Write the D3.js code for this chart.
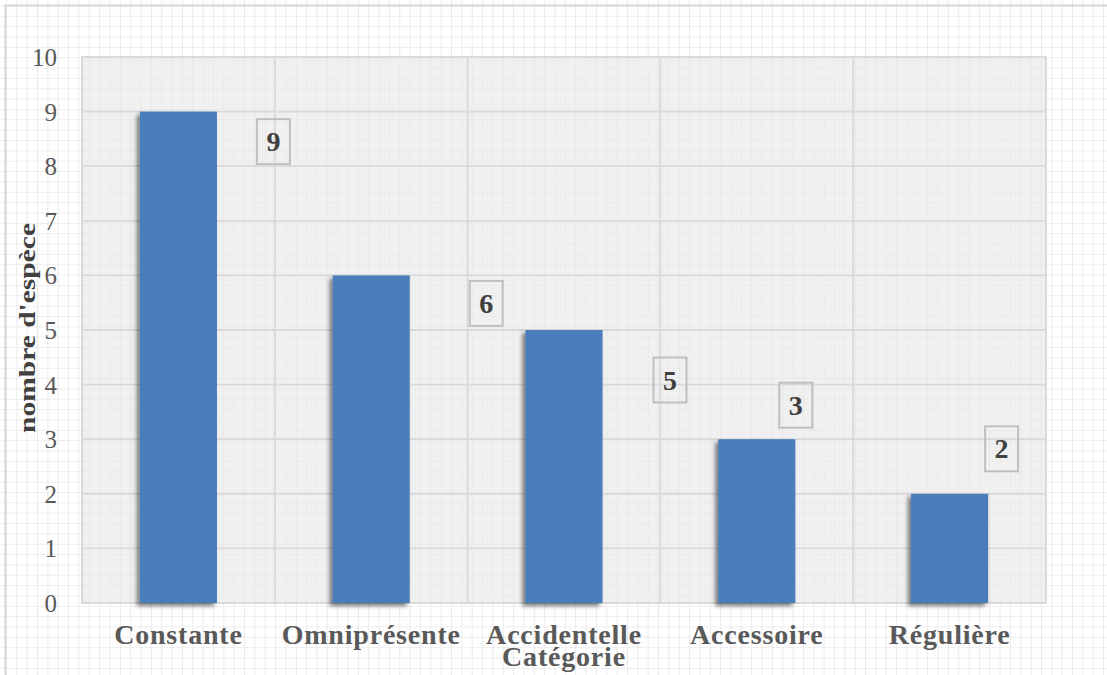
<!DOCTYPE html>
<html>
<head>
<meta charset="utf-8">
<script src="https://cdn.jsdelivr.net/npm/d3@7"></script>
<style>
  html, body { margin: 0; padding: 0; background: #fff; }
  svg { display: block; }
</style>
</head>
<body>
<svg id="chart" width="1107" height="675"></svg>
<script>
// Number of species per frequency class
const categories = ["Constante", "Omniprésente", "Accidentelle", "Accessoire", "Régulière"];
const speciesCount = [9, 6, 5, 3, 2];
const yTicks = [0, 1, 2, 3, 4, 5, 6, 7, 8, 9, 10];
const xTitle = "Catégorie";
const yTitle = "nombre d'espèce";

// Hand-placed data label boxes: pixel offset from the top centre of each bar
const labelOffsets = [[95, 30], [115, 28], [106, 50], [39, -34], [52, -45]];

const W = 1107, H = 675;
const plot = { left: 82, top: 57, right: 1046, bottom: 603 };
const cell = 10.35;
const serif = "'Liberation Serif', 'Times New Roman', serif";

const svg = d3.select("#chart");
const defs = svg.append("defs");

// Page grid (solid thin lines)
const pg = defs.append("pattern").attr("id", "pageGrid")
  .attr("patternUnits", "userSpaceOnUse")
  .attr("x", 6).attr("y", 5.5)
  .attr("width", cell).attr("height", cell);
pg.append("rect").attr("width", cell).attr("height", cell).attr("fill", "#ffffff");
pg.append("path").attr("d", `M0,0H${cell}M0,0V${cell}`)
  .attr("stroke", "#e7e7e7").attr("stroke-width", 1.6).attr("fill", "none");

// Plot-area grid (dotted lines on grey)
const ag = defs.append("pattern").attr("id", "areaGrid")
  .attr("patternUnits", "userSpaceOnUse")
  .attr("x", 6).attr("y", 5.5)
  .attr("width", cell).attr("height", cell);
ag.append("rect").attr("width", cell).attr("height", cell).attr("fill", "#f0f0f0");
ag.append("path").attr("d", `M0,0H${cell}M0,0V${cell}`)
  .attr("stroke", "#d6d6d6").attr("stroke-width", 1)
  .attr("stroke-dasharray", "1.3,1.3").attr("fill", "none");

// Soft shadow under the bars
const sh = defs.append("filter").attr("id", "barShadow")
  .attr("x", "-20%").attr("y", "-5%").attr("width", "140%").attr("height", "115%");
sh.append("feDropShadow").attr("dx", -3).attr("dy", 3)
  .attr("stdDeviation", 2.2).attr("flood-color", "#000").attr("flood-opacity", 0.5);

// Page background and frame
svg.append("rect").attr("width", W).attr("height", H).attr("fill", "url(#pageGrid)");
svg.append("rect").attr("x", 5.5).attr("y", 5.5).attr("width", W + 20).attr("height", H + 20)
  .attr("fill", "none").attr("stroke", "#d9d9d9").attr("stroke-width", 2.2);

// Scales
const x = d3.scaleBand().domain(categories)
  .range([plot.left, plot.right]).paddingInner(0.6).paddingOuter(0.3);
const y = d3.scaleLinear().domain([0, 10]).range([plot.bottom, plot.top]);

// Plot area
svg.append("rect")
  .attr("x", plot.left).attr("y", plot.top)
  .attr("width", plot.right - plot.left).attr("height", plot.bottom - plot.top)
  .attr("fill", "url(#areaGrid)");

// Major horizontal gridlines
svg.append("g").attr("class", "y-grid")
  .selectAll("line").data(yTicks).join("line")
  .attr("x1", plot.left).attr("x2", plot.right)
  .attr("y1", d => y(d)).attr("y2", d => y(d))
  .attr("stroke", "#d9d9d9").attr("stroke-width", 1.8);

// Category separators
const step = x.step();
const bounds = d3.range(categories.length + 1).map(i => plot.left + i * step);
svg.append("g").attr("class", "x-grid")
  .selectAll("line").data(bounds).join("line")
  .attr("x1", d => d).attr("x2", d => d)
  .attr("y1", plot.top).attr("y2", plot.bottom)
  .attr("stroke", "#d9d9d9").attr("stroke-width", 1.8);

// Plot area outline
svg.append("rect")
  .attr("x", plot.left).attr("y", plot.top)
  .attr("width", plot.right - plot.left).attr("height", plot.bottom - plot.top)
  .attr("fill", "none").attr("stroke", "#d9d9d9").attr("stroke-width", 1.5);

// Bars
svg.append("g").attr("class", "bars")
  .selectAll("rect").data(speciesCount).join("rect")
  .attr("x", (d, i) => x(categories[i]))
  .attr("y", d => y(d))
  .attr("width", x.bandwidth())
  .attr("height", d => y(0) - y(d))
  .attr("fill", "#4a7ebb")
  .attr("filter", "url(#barShadow)");

// Y axis tick labels
const yAxis = d3.axisLeft(y).tickValues(yTicks).tickSize(0).tickPadding(0).tickFormat(d3.format("d"));
const gy = svg.append("g").attr("transform", "translate(57,0)").call(yAxis);
gy.select(".domain").remove();
gy.selectAll("text")
  .attr("font-family", serif).attr("font-size", 25)
  .attr("fill", "#595959").attr("dy", "0.34em");

// X axis category labels
const xAxis = d3.axisBottom(x).tickSize(0).tickPadding(0);
const gx = svg.append("g").attr("transform", "translate(0,644)").call(xAxis);
gx.select(".domain").remove();
gx.selectAll("text")
  .attr("font-family", serif).attr("font-size", 28).attr("font-weight", "bold")
  .attr("letter-spacing", 0.8)
  .attr("fill", "#595959").attr("dy", 0);

// Axis titles
svg.append("text")
  .attr("x", (plot.left + plot.right) / 2).attr("y", 666)
  .attr("text-anchor", "middle")
  .attr("font-family", serif).attr("font-size", 28).attr("font-weight", "bold")
  .attr("letter-spacing", 0.8)
  .attr("fill", "#595959").text(xTitle);

svg.append("text")
  .attr("transform", "translate(35,328) rotate(-90)")
  .attr("text-anchor", "middle")
  .attr("font-family", serif).attr("font-size", 24).attr("font-weight", "bold")
  .attr("textLength", 210).attr("lengthAdjust", "spacingAndGlyphs")
  .attr("fill", "#404040").text(yTitle);

// Data labels in boxes
const lbl = svg.append("g").attr("class", "data-labels")
  .selectAll("g").data(speciesCount).join("g")
  .attr("transform", (d, i) => {
    const cx = x(categories[i]) + x.bandwidth() / 2 + labelOffsets[i][0];
    const cy = y(d) + labelOffsets[i][1];
    return `translate(${cx},${cy})`;
  });
lbl.append("rect")
  .attr("x", -16.5).attr("y", -22.5).attr("width", 33).attr("height", 45)
  .attr("fill", "none").attr("stroke", "#bfbfbf").attr("stroke-width", 2);
lbl.append("text")
  .attr("text-anchor", "middle").attr("dy", "0.34em")
  .attr("font-family", serif).attr("font-size", 28).attr("font-weight", "bold")
  .attr("fill", "#404040").text(d => d);
</script>
</body>
</html>
